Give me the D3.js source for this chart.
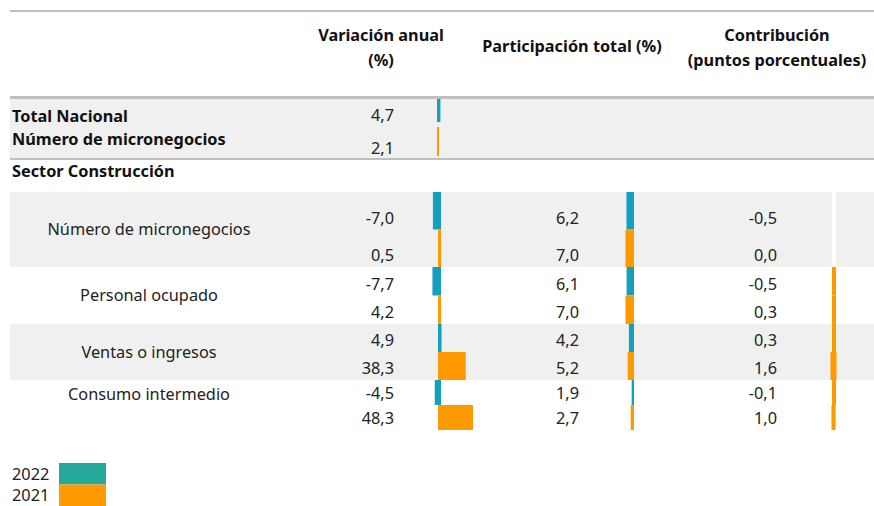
<!DOCTYPE html>
<html>
<head>
<meta charset="utf-8">
<script src="https://cdn.jsdelivr.net/npm/d3@7"></script>
<style>
  html, body { margin: 0; padding: 0; background: #fff; }
  svg { display: block; font-family: "Noto Sans", "Open Sans", sans-serif; }
</style>
</head>
<body>
<svg id="chart" width="874" height="506"></svg>
<script>
// ---------------- data ----------------
const categories = ["Número de micronegocios", "Personal ocupado", "Ventas o ingresos", "Consumo intermedio"];
const years = ["2022", "2021"];
const variacion2022 = [-7.0, -7.7, 4.9, -4.5];
const variacion2021 = [0.5, 4.2, 38.3, 48.3];
const participacion2022 = [6.2, 6.1, 4.2, 1.9];
const participacion2021 = [7.0, 7.0, 5.2, 2.7];
const contribucion2022 = [-0.5, -0.5, 0.3, -0.1];
const contribucion2021 = [0.0, 0.3, 1.6, 1.0];
const totalLabels = ["Total Nacional", "Número de micronegocios"];
const totalVariacion = [4.7, 2.1];
const sectorLabel = "Sector Construcción";
const headerVariacion = ["Variación anual", "(%)"];
const headerParticipacion = ["Participación total (%)"];
const headerContribucion = ["Contribución", "(puntos porcentuales)"];

// ---------------- setup ----------------
const svg = d3.select("#chart");
const W = 874;
const locale = d3.formatLocale({decimal: ",", thousands: ".", grouping: [3], currency: ["", ""], minus: "-"});
const fmt = locale.format(".1f");

const teal = "#139fbd";
const orange = "#ff9900";
const legendTeal = "#26a99b";
const seriesColor = d3.scaleOrdinal().domain(years).range([teal, orange]);
const legendColor = d3.scaleOrdinal().domain(years).range([legendTeal, orange]);
const stripe = "#f0f0f0";
const lineGray = "#bfbfbf";
const fontSize = 16.3;
const boldSize = 16.3;

// columns (x positions)
const col = {
  labelLeft: 12,
  labelCenter: 149,
  varValue: 394,
  partValue: 579,
  contValue: 777
};

// bar scales
const varAxis = 439;
const xVar = d3.scaleLinear().domain([0, 48.3]).range([0, 35]);
const partRight = 634;
const xPart = d3.scaleLinear().domain([0, 7]).range([0, 8.5]);
const contAxis = 834;
const xCont = d3.scaleLinear().domain([0, 1.6]).range([0, 5]);

// rows
const rowY = d3.scaleLinear().domain([0, 1, 2, 3, 4]).range([192, 267, 324, 380, 430]);
const topBand = d3.scaleBand().domain(years).range([99, 159]);

// ---------------- header ----------------
svg.append("rect").attr("x", 10).attr("y", 10).attr("width", W - 10).attr("height", 2).attr("fill", lineGray);

function header(lines, cx, y0, dy) {
  const t = svg.append("text").attr("text-anchor", "middle").attr("font-weight", "bold")
    .attr("font-size", boldSize).attr("fill", "#111");
  lines.forEach((l, i) => t.append("tspan").attr("x", cx).attr("y", y0 + i * dy).text(l));
}
header(headerVariacion, 381, 41, 25);
header(headerParticipacion, 572, 52, 25);
header(headerContribucion, 777, 41, 25);

// ---------------- total section ----------------
svg.append("rect").attr("x", 10).attr("y", 96).attr("width", W - 10).attr("height", 3).attr("fill", lineGray);
svg.append("rect").attr("x", 10).attr("y", 99).attr("width", W - 10).attr("height", 59).attr("fill", stripe);
svg.append("rect").attr("x", 10).attr("y", 158).attr("width", W - 10).attr("height", 2).attr("fill", lineGray);

svg.append("g").selectAll("text").data(totalLabels).join("text")
  .attr("x", col.labelLeft).attr("y", (d, i) => 122 + i * 23)
  .attr("font-weight", "bold").attr("font-size", boldSize).attr("fill", "#111").text(d => d);

svg.append("g").selectAll("text").data(totalVariacion).join("text")
  .attr("x", col.varValue).attr("y", (d, i) => topBand(years[i]) + topBand.bandwidth() - 8 + i * 3)
  .attr("text-anchor", "end").attr("font-size", fontSize).attr("fill", "#222").text(d => fmt(d));

svg.append("g").selectAll("rect").data(totalVariacion).join("rect")
  .attr("x", d => varAxis - 2)
  .attr("y", (d, i) => topBand(years[i]) + (i ? -2 : 0))
  .attr("width", d => Math.max(2, xVar(Math.abs(d))))
  .attr("height", (d, i) => topBand.bandwidth() - (i ? 1 : 7))
  .attr("fill", (d, i) => seriesColor(years[i]));

svg.append("text").attr("x", col.labelLeft).attr("y", 177).attr("font-weight", "bold")
  .attr("font-size", boldSize).attr("fill", "#111").text(sectorLabel);

// ---------------- sector rows ----------------
const rows = categories.map((c, i) => ({
  name: c, i,
  values: [
    {year: "2022", v: variacion2022[i], p: participacion2022[i], c: contribucion2022[i]},
    {year: "2021", v: variacion2021[i], p: participacion2021[i], c: contribucion2021[i]}
  ]
}));

// stripes
const gStripe = svg.append("g");
rows.filter(r => r.i % 2 === 0).forEach(r => {
  gStripe.append("rect").attr("x", 10).attr("y", rowY(r.i)).attr("width", contAxis - 2 - 10)
    .attr("height", rowY(r.i + 1) - rowY(r.i)).attr("fill", stripe);
  gStripe.append("rect").attr("x", contAxis + 2).attr("y", rowY(r.i)).attr("width", W - contAxis - 2)
    .attr("height", rowY(r.i + 1) - rowY(r.i)).attr("fill", stripe);
});

// row labels (centered in the row; the last row's label sits on its first line)
svg.append("g").selectAll("text").data(rows).join("text")
  .attr("x", col.labelCenter)
  .attr("y", r => r.i === rows.length - 1 ? rowY(r.i) + 14 : (rowY(r.i) + rowY(r.i + 1)) / 2)
  .attr("dy", "0.35em")
  .attr("text-anchor", "middle").attr("font-size", fontSize).attr("fill", "#222").text(r => r.name);

const sub = (r, j) => {
  const top = rowY(r.i), bot = rowY(r.i + 1), mid = (top + bot) / 2;
  return j === 0 ? [top, mid] : [mid, bot];
};

const cells = rows.flatMap(r => r.values.map((d, j) => ({...d, r, j, band: sub(r, j)})));

const gCells = svg.append("g");
// values
[["v", col.varValue], ["p", col.partValue], ["c", col.contValue]].forEach(([k, x]) => {
  gCells.append("g").selectAll("text").data(cells).join("text")
    .attr("x", x).attr("y", d => d.band[1] - 6)
    .attr("text-anchor", "end").attr("font-size", fontSize).attr("fill", "#222")
    .text(d => fmt(d[k]));
});

// bars: variación
gCells.append("g").selectAll("rect").data(cells).join("rect")
  .attr("x", d => d.v < 0 ? varAxis - xVar(-d.v) - 1 : varAxis - 1)
  .attr("y", d => d.band[0]).attr("height", d => d.band[1] - d.band[0])
  .attr("width", d => Math.max(3, xVar(Math.abs(d.v)) + (d.v < 0 ? 3 : 0)))
  .attr("fill", d => seriesColor(d.year));

// bars: participación
gCells.append("g").selectAll("rect").data(cells).join("rect")
  .attr("x", d => partRight - xPart(d.p))
  .attr("y", d => d.band[0]).attr("height", d => d.band[1] - d.band[0])
  .attr("width", d => xPart(d.p))
  .attr("fill", d => seriesColor(d.year));

// bars: contribución
gCells.append("g").selectAll("rect").data(cells.filter(d => d.r.i > 0)).join("rect")
  .attr("x", d => contAxis - Math.max(2, xCont(Math.abs(d.c)) / 2 + 1))
  .attr("y", d => d.band[0]).attr("height", d => d.band[1] - d.band[0])
  .attr("width", d => Math.max(4, xCont(Math.abs(d.c)) + 1))
  .attr("fill", orange);

// ---------------- legend ----------------
const legend = svg.append("g");
const legY = d3.scaleBand().domain(years).range([463, 506]);
legend.selectAll("rect").data(years).join("rect")
  .attr("x", 59).attr("y", d => legY(d)).attr("width", 47).attr("height", legY.bandwidth())
  .attr("fill", d => legendColor(d));
legend.selectAll("text").data(years).join("text")
  .attr("x", 12).attr("y", d => legY(d) + legY.bandwidth() - 5)
  .attr("font-size", fontSize).attr("fill", "#222").text(d => d);
</script>
</body>
</html>
